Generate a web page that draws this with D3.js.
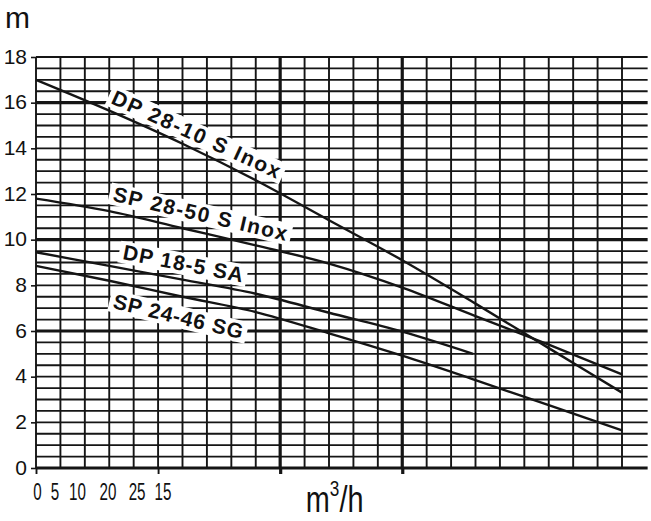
<!DOCTYPE html>
<html><head><meta charset="utf-8">
<script src="https://cdn.jsdelivr.net/npm/d3@7"></script>
<style>html,body{margin:0;padding:0;background:#fff;} svg{display:block;font-family:"Liberation Sans", Arial, Helvetica, sans-serif;}</style>
</head><body><svg id="c" width="651" height="521"></svg>
<script>
// ---- data (flow in grid units, head in m) ----
const flowPoints = [0, 3, 6, 9, 12, 15, 18, 21, 24];
const dp2810Head = [17.0, 15.65, 14.2, 12.6, 10.85, 9.1, 7.2, 5.25, 3.3];
const sp2850Head = [11.8, 11.25, 10.5, 9.75, 8.95, 7.9, 6.65, 5.4, 4.1];
const dp185Flow  = [0, 3, 6, 9, 12, 15, 17.9];
const dp185Head  = [9.45, 8.85, 8.25, 7.63, 6.8, 5.97, 5.0];
const sp2446Head = [8.85, 8.2, 7.5, 6.83, 5.9, 4.92, 3.85, 2.75, 1.65];
const seriesNames = ["DP 28-10 S Inox", "SP 28-50 S Inox", "DP 18-5 SA", "SP 24-46 SG"];
const yTickValues = [0, 2, 4, 6, 8, 10, 12, 14, 16, 18];
const xTickLabels = ["0", "5", "10", "20", "25", "15"];
const xTickLabelAt = [0.06, 0.78, 1.7, 2.95, 4.14, 5.2];
const yAxisTitle = "m";
const xAxisTitle = "m";
const xAxisTitleSup = "3";
const xAxisTitleTail = "/h";

// ---- layout ----
const W = 651, H = 521;
const margin = {left: 36, right: 29, top: 57, bottom: 53};
const x = d3.scaleLinear().domain([0, 24]).range([margin.left, W - margin.right]);
const y = d3.scaleLinear().domain([0, 18]).range([H - margin.bottom, margin.top]);
const svg = d3.select("#c");
const ink = "#151515";

const series = [
  {name: seriesNames[0], pts: flowPoints.map((f, i) => [f, dp2810Head[i]])},
  {name: seriesNames[1], pts: flowPoints.map((f, i) => [f, sp2850Head[i]])},
  {name: seriesNames[2], pts: dp185Flow.map((f, i) => [f, dp185Head[i]])},
  {name: seriesNames[3], pts: flowPoints.map((f, i) => [f, sp2446Head[i]])}
];
// label placement (data-unit anchor, angle, text length in px)
const labelLayout = [
  {at: [3.03, 15.99], angle: 24.5, len: 183},
  {at: [3.11, 11.70], angle: 13,   len: 178},
  {at: [3.52, 9.15],  angle: 11,   len: 122},
  {at: [3.11, 7.01],  angle: 13.5, len: 133}
];

// layer order
const gridG = svg.append("g");
const tickG = svg.append("g");
const bgG = svg.append("g");
const curveG = svg.append("g");
const labG = svg.append("g");
const textG = svg.append("g");

// ---- grid ----
const hVals = d3.range(0, 18.001, 0.5);
const thickH = [0, 6, 10, 16];
gridG.selectAll("line.h").data(hVals).join("line").attr("class", "h")
  .attr("x1", x(0)).attr("x2", x(25.05))
  .attr("y1", d => y(d)).attr("y2", d => y(d))
  .attr("stroke", ink)
  .attr("stroke-width", d => thickH.includes(d) ? 3.2 : 1.9);
const vVals = d3.range(0, 24.001, 1);
const thickV = [10, 15];
gridG.selectAll("line.v").data(vVals).join("line").attr("class", "v")
  .attr("x1", d => x(d)).attr("x2", d => x(d))
  .attr("y1", y(18)).attr("y2", y(0))
  .attr("stroke", ink)
  .attr("stroke-width", d => thickV.includes(d) ? 3.2 : 1.9);

// ticks
const xAxis = d3.axisBottom(x).tickValues([0, 5, 10, 15]).tickSize(6).tickFormat("");
const gx = tickG.append("g").attr("transform", `translate(0,${y(0)})`).call(xAxis);
gx.select(".domain").remove();
gx.selectAll(".tick line").attr("stroke", ink).attr("stroke-width", d => thickV.includes(d) ? 3.2 : 1.9);
const yAxis = d3.axisLeft(y).tickValues(yTickValues).tickSize(5).tickPadding(4).tickFormat(d3.format("d"));
const gy = tickG.append("g").attr("transform", `translate(${x(0)},0)`).call(yAxis);
gy.select(".domain").remove();
gy.selectAll(".tick line").attr("stroke", ink).attr("stroke-width", 1.6);
gy.selectAll(".tick text").attr("font-size", 21).attr("fill", "#111")
  .attr("font-family", "Liberation Sans, Arial, sans-serif")
  .attr("dy", "0.3em");

// ---- labels (text on top, white boxes below curves) ----
labelLayout.forEach((L, i) => {
  const tr = `translate(${x(L.at[0])},${y(L.at[1])}) rotate(${L.angle})`;
  const t = labG.append("text").attr("transform", tr).text(series[i].name)
    .attr("font-size", 21).attr("font-weight", "bold").attr("fill", "#111")
    .attr("textLength", L.len).attr("lengthAdjust", "spacing");
  const b = t.node().getBBox();
  bgG.append("rect").attr("transform", tr)
    .attr("x", b.x - 4).attr("y", b.y + 1).attr("width", b.width + 8).attr("height", b.height - 1)
    .attr("fill", "#fff");
});

// ---- curves ----
const line = d3.line().x(d => x(d[0])).y(d => y(d[1])).curve(d3.curveMonotoneX);
curveG.selectAll("path").data(series).join("path")
  .attr("d", d => line(d.pts))
  .attr("fill", "none").attr("stroke", ink).attr("stroke-width", 2.4);

// ---- x tick labels ----
textG.selectAll("text.xl").data(xTickLabels).join("text").attr("class", "xl")
  .attr("transform", (d, i) => `translate(${x(xTickLabelAt[i])},500) scale(0.66,1)`)
  .attr("text-anchor", "middle").attr("font-size", 23).attr("fill", "#111")
  .text(d => d);

// ---- axis titles ----
textG.append("text").attr("x", 5).attr("y", 28).attr("font-size", 30).attr("fill", "#111").text(yAxisTitle);
const xt = textG.append("text").attr("transform", `translate(${x(11.05)},512) scale(0.78,1)`)
  .attr("font-size", 37).attr("fill", "#111");
xt.append("tspan").text(xAxisTitle);
xt.append("tspan").attr("font-size", 22).attr("dy", -16).text(xAxisTitleSup);
xt.append("tspan").attr("dy", 16).text(xAxisTitleTail);
</script></body></html>
